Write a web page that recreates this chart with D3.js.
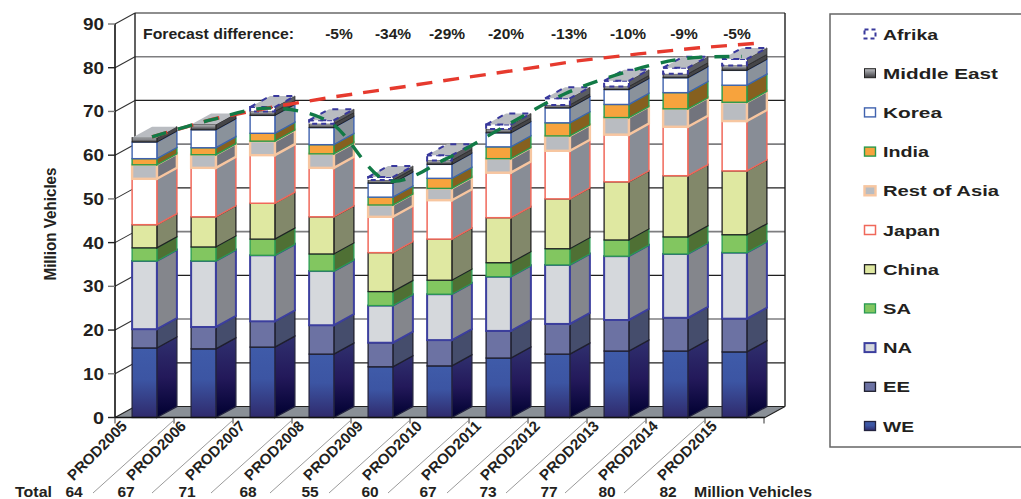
<!DOCTYPE html>
<html>
<head>
<meta charset="utf-8">
<script src="https://cdnjs.cloudflare.com/ajax/libs/d3/7.8.5/d3.min.js"></script>
<style>
html,body{margin:0;padding:0;background:#fff;overflow:hidden}
text{font-family:"Liberation Sans",Arial,sans-serif;font-weight:bold;fill:#231f20}
</style>
</head>
<body>
<svg id="chart" width="1021" height="499"></svg>
<script>
const categories = ["PROD2005","PROD2006","PROD2007","PROD2008","PROD2009","PROD2010","PROD2011","PROD2012","PROD2013","PROD2014","PROD2015"];
const totals = [64,67,71,68,55,60,67,73,77,80,82];
const forecastDiffs = ["-5%","-34%","-29%","-20%","-13%","-10%","-9%","-5%"];
const yTicks = [0,10,20,30,40,50,60,70,80,90];

const WE     = [15.9,15.7,16.1,14.5,11.6,11.8,13.6,14.5,15.2,15.2,15.0];
const EE     = [4.3,5.0,5.9,6.6,5.5,5.9,6.2,6.9,7.1,7.6,7.6];
const NA     = [15.6,15.1,15.1,12.4,8.5,10.5,12.4,13.5,14.6,14.6,15.1];
const SA     = [3.0,3.2,3.7,3.9,3.2,3.2,3.2,3.7,3.7,3.9,4.1];
const China  = [5.3,6.9,8.2,8.5,8.9,9.4,10.3,11.4,13.3,14.0,14.6];
const Japan  = [10.5,11.2,11.0,11.2,8.2,8.9,10.3,11.0,10.8,11.2,11.4];
const RestOfAsia = [3.2,3.0,3.2,3.2,2.7,2.7,3.2,3.4,3.9,4.1,4.3];
const India  = [1.4,1.6,1.8,2.1,1.8,2.3,2.7,3.0,3.0,3.7,3.9];
const Korea  = [3.8,4.1,4.1,3.9,3.2,3.2,3.2,3.4,3.4,3.4,3.4];
const MiddleEast = [1.0,1.2,0.9,0.9,0.7,0.9,0.9,0.7,0.7,0.9,1.1];
const Afrika = [0,0,1.0,0.8,0.7,1.2,1.0,1.5,1.3,1.4,1.5];

// Dashed trend lines: earlier forecast and current production
const forecastLine = [62.9,67.0,69.8,72.1,74.1,76.2,78.2,80.3,81.9,83.3,84.4];
const productionLine = [62.9,66.8,69.5,66.4,52.9,58.0,65.5,72.8,77.6,80.8,81.3];

const seriesNames = ["WE","EE","NA","SA","China","Japan","Rest of Asia","India","Korea","Middle East","Afrika"];
const seriesValues = [WE,EE,NA,SA,China,Japan,RestOfAsia,India,Korea,MiddleEast,Afrika];
const legendOrder = seriesNames.slice().reverse();

const looks = {
  "WE":{front:"url(#weFront)",side:"url(#weSide)",stroke:"#23233f",sw:1.3},
  "EE":{front:"#6c72a3",side:"#454d6c",stroke:"#1f1f2e",sw:1.3},
  "NA":{front:"#d5d8dc",side:"#84868c",stroke:"#3c3f9e",sw:2},
  "SA":{front:"#82c660",side:"#4f7034",stroke:"#2a9a52",sw:1.3},
  "China":{front:"#dfe8a1",side:"#82886a",stroke:"#222",sw:1.3},
  "Japan":{front:"#ffffff",side:"#888d96",stroke:"#f0685a",sw:1.5},
  "Rest of Asia":{front:"#b9bcc1",side:"#72747d",stroke:"#f7c6a0",sw:2.4},
  "India":{front:"#f7a33d",side:"#86601f",stroke:"#2a9a4b",sw:1.4},
  "Korea":{front:"#ffffff",side:"#8a929b",stroke:"#3f62ae",sw:1.4},
  "Middle East":{front:"url(#meFront)",side:"#454548",stroke:"#222",sw:1},
  "Afrika":{front:"#ffffff",side:"#5a5c62",stroke:"#38389c",sw:2,dash:"5 4"}
};

const svg = d3.select("#chart");
const depthX = 20, depthY = -11;

const defs = svg.append("defs");
function gradient(id, stops){
  const g = defs.append("linearGradient").attr("id",id).attr("x1",0).attr("y1",0).attr("x2",0).attr("y2",1);
  stops.forEach(s => g.append("stop").attr("offset",s[0]).attr("stop-color",s[1]));
}
gradient("weFront",[[0,"#3f5ba9"],[0.45,"#3c55a3"],[1,"#2f2a6c"]]);
gradient("weSide",[[0,"#30306f"],[0.5,"#23195a"],[1,"#000030"]]);
gradient("meFront",[[0,"#c0c2c6"],[1,"#3a3a3e"]]);

const x = d3.scaleBand().domain(categories).range([115,764]).paddingInner(0.58).paddingOuter(0.29);
const y = d3.scaleLinear().domain([0,90]).range([417.5,24]);
const forecastX = d3.scaleLinear().domain([0,10]).range([152,760]);
const productionX = d3.scaleLinear().domain([0,10]).range([152,742]);

// Back wall and gridlines
const wall = svg.append("g");
wall.selectAll("line.grid").data(yTicks.filter(t=>t>0)).join("line")
  .attr("x1",135).attr("x2",785)
  .attr("y1",t=>y(t)+depthY).attr("y2",t=>y(t)+depthY)
  .attr("stroke",t=>(t/10)%2===0?"#7e7e80":"#1f1f1f")
  .attr("stroke-width",t=>(t/10)%2===0?1.6:1.2);
wall.selectAll("line.side").data(yTicks.filter(t=>t>0)).join("line")
  .attr("x1",115).attr("x2",135)
  .attr("y1",t=>y(t)).attr("y2",t=>y(t)+depthY)
  .attr("stroke","#333").attr("stroke-width",1.1);
wall.append("line").attr("x1",135).attr("x2",135).attr("y1",y(90)+depthY).attr("y2",y(0)+depthY).attr("stroke","#1f1f1f").attr("stroke-width",1.4);
wall.append("line").attr("x1",785).attr("x2",785).attr("y1",y(90)+depthY).attr("y2",y(0)+depthY).attr("stroke","#1f1f1f").attr("stroke-width",1.4);

// Floor
svg.append("polygon")
  .attr("points",[[115,y(0)],[115+depthX,y(0)+depthY],[765+depthX,y(0)+depthY],[765,y(0)]].join(" "))
  .attr("fill","#8a9097").attr("stroke","#222").attr("stroke-width",1.2);

// Value axis
const axisG = svg.append("g");
axisG.append("line").attr("x1",115).attr("x2",115).attr("y1",y(90)).attr("y2",y(0)).attr("stroke","#111").attr("stroke-width",1.6);
axisG.selectAll("line.t").data(yTicks).join("line")
  .attr("x1",108).attr("x2",115).attr("y1",t=>y(t)).attr("y2",t=>y(t))
  .attr("stroke",t=>(t/10)%2===0?"#222":"#777").attr("stroke-width",1.4);
axisG.selectAll("text").data(yTicks).join("text")
  .attr("x",104).attr("y",t=>y(t)+6).attr("text-anchor","end")
  .attr("font-size",16)
  .attr("textLength",t=>t===0?11:21).attr("lengthAdjust","spacingAndGlyphs")
  .text(t=>t);
svg.append("text").attr("transform","translate(56,224) rotate(-90)").attr("text-anchor","middle")
  .attr("font-size",16).attr("textLength",113).attr("lengthAdjust","spacingAndGlyphs").text("Million Vehicles");

// Stacked 3D bars
const stack = d3.stack().keys(d3.range(seriesNames.length)).value((row,k)=>row[k]);
const rows = categories.map((c,i)=>seriesValues.map(s=>s[i]));
const layers = stack(rows);
const barW = x.bandwidth();

categories.forEach((cat,i)=>{
  const g = svg.append("g").attr("class","bar");
  const x0 = x(cat), x1 = x0+barW;
  layers.forEach((layer,k)=>{
    const name = seriesNames[k], look = looks[name];
    if (layer[i][1] === layer[i][0]) return;
    const yb = y(layer[i][0]), yt = y(layer[i][1]);
    g.append("polygon")
      .attr("points",[[x1,yt],[x1+depthX,yt+depthY],[x1+depthX,yb+depthY],[x1,yb]].join(" "))
      .attr("fill",look.side).attr("stroke",look.dash?"#333":look.stroke).attr("stroke-width",look.dash?1:look.sw);
    g.append("rect").attr("x",x0).attr("y",yt).attr("width",barW).attr("height",yb-yt)
      .attr("fill",look.front).attr("stroke",look.stroke).attr("stroke-width",look.sw)
      .attr("stroke-dasharray",look.dash||null);
  });
  const topY = y(totals[i]);
  const top = g.append("polygon")
    .attr("points",[[x0,topY],[x0+depthX,topY+depthY],[x1+depthX,topY+depthY],[x1,topY]].join(" "))
    .attr("fill","#b9bcc1");
  // The dashed outline only belongs to tops that carry an Afrika layer
  if (Afrika[i] > 0) top.attr("stroke",looks["Afrika"].stroke).attr("stroke-width",2).attr("stroke-dasharray","6 7");
});

// Axis baseline over the bar feet
svg.append("line").attr("x1",115).attr("x2",765).attr("y1",y(0)).attr("y2",y(0)).attr("stroke","#111").attr("stroke-width",1.6);

// Trend lines (plotted on the mid-depth plane)
const forecastPath = d3.line().x((d,i)=>forecastX(i)).y(d=>y(d)-5.5);
const productionPath = d3.line().x((d,i)=>productionX(i)).y(d=>y(d)-5.5).curve(d3.curveCatmullRom);
svg.append("path").datum(forecastLine).attr("d",forecastPath)
  .attr("fill","none").attr("stroke","#e63a2e").attr("stroke-width",3.4).attr("stroke-dasharray","16 11");
svg.append("path").datum(productionLine).attr("d",productionPath)
  .attr("fill","none").attr("stroke","#127a46").attr("stroke-width",3.4).attr("stroke-dasharray","15 12");

// Category ticks, slanted labels and separators
const tickX = i => 115+59*i;
svg.selectAll("line.ct").data(d3.range(12)).join("line")
  .attr("x1",tickX).attr("x2",tickX).attr("y1",y(0)).attr("y2",y(0)+6).attr("stroke","#333").attr("stroke-width",1);
svg.selectAll("line.sep").data(d3.range(1,11)).join("line")
  .attr("x1",i=>tickX(i)-81).attr("x2",tickX).attr("y1",493).attr("y2",420).attr("stroke","#9a9a9a").attr("stroke-width",1);
svg.selectAll("text.cat").data(categories).join("text").attr("class","cat")
  .attr("transform",(c,i)=>`translate(${tickX(i)+13},427) rotate(-45)`)
  .attr("text-anchor","end").attr("font-size",15)
  .attr("textLength",77).attr("lengthAdjust","spacingAndGlyphs").text(c=>c);

// Totals row
const totalX = [74,126,187,248,310,370,428,488,549,607,668];
svg.append("text").attr("x",15).attr("y",497).attr("font-size",15).attr("textLength",37).attr("lengthAdjust","spacingAndGlyphs").text("Total");
svg.selectAll("text.tot").data(totals).join("text").attr("class","tot")
  .attr("x",(d,i)=>totalX[i]).attr("y",497).attr("text-anchor","middle").attr("font-size",15.5).text(d=>d);
svg.append("text").attr("x",694).attr("y",497).attr("font-size",15).attr("textLength",118).attr("lengthAdjust","spacingAndGlyphs").text("Million Vehicles");

// Forecast difference row
const diffX = [339,393,447,506,569,628,684,737];
svg.append("text").attr("x",143).attr("y",39).attr("font-size",15.5).attr("textLength",151).attr("lengthAdjust","spacingAndGlyphs").text("Forecast difference:");
svg.selectAll("text.diff").data(forecastDiffs).join("text").attr("class","diff")
  .attr("x",(d,i)=>diffX[i]).attr("y",39).attr("text-anchor","middle").attr("font-size",15.5).text(d=>d);

// Legend
const legend = svg.append("g");
legend.append("path").attr("d","M1021,14H830V447H1021").attr("fill","#fff").attr("stroke","#666").attr("stroke-width",1.5);
const legendY = d3.scalePoint().domain(legendOrder).range([34,426]);
const legendWidths = {"Afrika":55,"Middle East":115,"Korea":59,"India":46,"Rest of Asia":116,"Japan":57,"China":56,"SA":28,"NA":29,"EE":27,"WE":31};
legendOrder.forEach(name=>{
  const look = looks[name], cy = legendY(name);
  legend.append("rect").attr("x",864.5).attr("y",cy-4.5).attr("width",11).attr("height",9)
    .attr("fill",look.front).attr("stroke",look.stroke).attr("stroke-width",look.sw)
    .attr("stroke-dasharray",look.dash?"4 3":null);
  legend.append("text").attr("x",883).attr("y",cy+5.5).attr("font-size",15.5)
    .attr("textLength",legendWidths[name]).attr("lengthAdjust","spacingAndGlyphs").text(name);
});
</script>
</body>
</html>
